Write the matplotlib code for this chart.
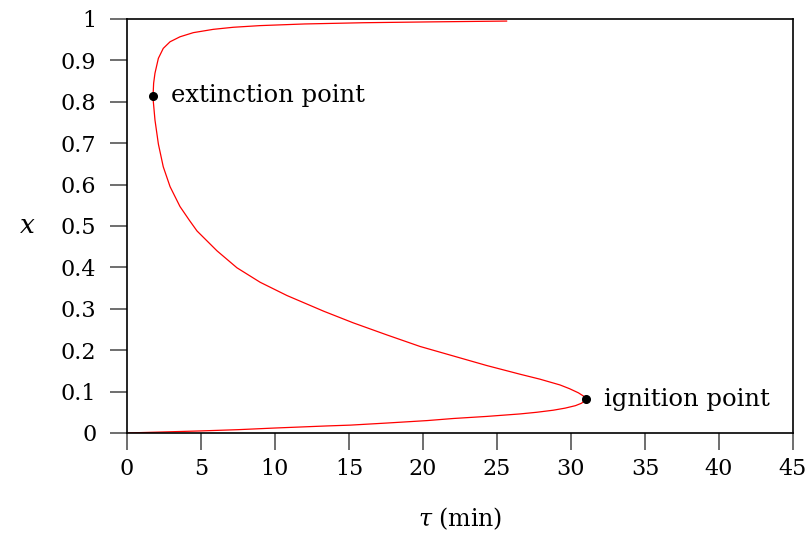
import matplotlib
matplotlib.use("Agg")
import matplotlib.pyplot as plt

# S-shaped steady-state curve
tau = [0, 2.5, 5, 7.5, 10, 13.5, 15.1, 17.55, 20.3, 22.05, 24.3, 26.55,
       27.68, 28.8, 29.6, 30.3, 30.72, 30.99, 30.85, 30.5, 29.9, 29.26,
       27.9, 26.55, 24.3, 22.05, 19.8, 17.55, 15.29, 13.3, 10.81, 9.0, 7.43,
       6.08, 4.73, 4.21, 3.58, 2.91, 2.45, 2.12, 1.89, 1.78, 1.76, 1.80,
       1.89, 2.12, 2.45, 2.91, 3.58, 4.48, 5.83, 7.18, 8.99, 12.0, 16.0,
       20.5, 25.65]
conv = [0, 0.0025, 0.005, 0.008, 0.012, 0.017, 0.019, 0.024, 0.030, 0.035,
        0.040, 0.046, 0.050, 0.055, 0.060, 0.066, 0.072, 0.081, 0.089, 0.097,
        0.107, 0.116, 0.130, 0.142, 0.163, 0.186, 0.209, 0.237, 0.266, 0.294,
        0.332, 0.364, 0.399, 0.440, 0.488, 0.514, 0.547, 0.595, 0.643, 0.698,
        0.756, 0.800, 0.815, 0.845, 0.869, 0.905, 0.929, 0.945, 0.957, 0.967,
        0.975, 0.980, 0.984, 0.988, 0.991, 0.993, 0.995]

# marked points
pt_labels = ["extinction point", "ignition point"]
pt_tau = [1.76, 30.99]
pt_x = [0.815, 0.081]

xticks = [0, 5, 10, 15, 20, 25, 30, 35, 40, 45]
yticks = [0, 0.1, 0.2, 0.3, 0.4, 0.5, 0.6, 0.7, 0.8, 0.9, 1]
ytick_labels = ["0", "0.1", "0.2", "0.3", "0.4", "0.5", "0.6",
                "0.7", "0.8", "0.9", "1"]

plt.rcParams['font.family'] = ['DejaVu Serif']
plt.rcParams['mathtext.fontset'] = 'dejavuserif'
plt.rcParams['font.size'] = 16

fig = plt.figure(figsize=(8.12, 5.38), dpi=100)
ax = fig.add_axes([0.1564, 0.1952, 0.8202, 0.7695])

ax.plot(tau, conv, color='red', lw=0.9)
ax.plot(pt_tau, pt_x, 'o', color='black', ms=5.5)
for lab, t, x in zip(pt_labels, pt_tau, pt_x):
    ax.annotate(lab, (t, x), xytext=(13, 0), textcoords='offset points',
                va='center', ha='left', fontsize=17.5)

ax.set_xlim(0, 45)
ax.set_ylim(0, 1)
ax.set_xticks(xticks)
ax.set_xticklabels([str(t) for t in xticks])
ax.set_yticks(yticks)
ax.set_yticklabels(ytick_labels)

ax.tick_params(direction='out', length=12, width=1.2, color='#555555')
ax.tick_params(axis='x', pad=6)
ax.tick_params(axis='y', pad=10)
for s in ax.spines.values():
    s.set_linewidth(1.2)
    s.set_color('black')

ax.set_xlabel(r'$\tau$ (min)', labelpad=18, fontsize=17)
ax.set_ylabel(r'$x$', rotation=0, labelpad=24, va='center', fontsize=19)

fig.savefig("out.png", dpi=100)
